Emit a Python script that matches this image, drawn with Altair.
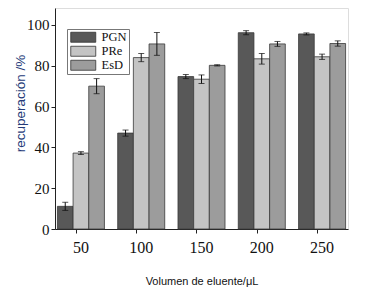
import altair as alt
import pandas as pd

volumes = ["50", "100", "150", "200", "250"]
series = ["PGN", "PRe", "EsD"]
pgn = [11.1, 47.0, 74.7, 96.2, 95.6]
pgn_err = [2.0, 1.5, 1.0, 1.0, 0.5]
pre = [37.2, 84.0, 73.4, 83.4, 84.4]
pre_err = [0.7, 2.0, 2.1, 2.6, 1.3]
esd = [70.0, 90.7, 80.2, 90.7, 90.9]
esd_err = [3.7, 5.6, 0.3, 1.2, 1.3]
colors = ["#585858", "#c4c4c4", "#9c9c9c"]

rows = []
for name, vals, errs in [("PGN", pgn, pgn_err), ("PRe", pre, pre_err), ("EsD", esd, esd_err)]:
    for v, val, e in zip(volumes, vals, errs):
        rows.append({"vol": v, "serie": name, "val": val, "lo": val - e, "hi": val + e})
df = pd.DataFrame(rows)

x_enc = alt.X("vol:N", sort=volumes,
              scale=alt.Scale(paddingInner=0.22, paddingOuter=0.04),
              axis=alt.Axis(title="Volumen de eluente/μL", labelAngle=0, bandPosition=0.4,
                            labelFont="Liberation Serif", labelFontSize=16, labelColor="#111",
                            titleFont="Liberation Sans", titleFontSize=11, titleFontWeight="normal",
                            titleColor="#111", titlePadding=20, tickSize=4, labelPadding=6,
                            domainColor="#222", tickColor="#222"))
xo = alt.XOffset("serie:N", sort=series, scale=alt.Scale(paddingInner=0, paddingOuter=0))
y_scale = alt.Scale(domain=[0, 108.3], nice=False)

base = alt.Chart(df)

bars = base.mark_bar(stroke="#3a3a3a", strokeWidth=0.8).encode(
    x=x_enc,
    xOffset=xo,
    y=alt.Y("val:Q", scale=y_scale,
            axis=alt.Axis(title="recuperación /%", values=[0, 20, 40, 60, 80, 100], grid=False,
                          labelFont="Liberation Serif", labelFontSize=15, labelColor="#111",
                          titleFont="Liberation Sans", titleFontSize=13.5, titleFontWeight="normal",
                          titleColor="#243a78", titleX=-35, titleY=95, titleAngle=-90,
                          titleAlign="center", titleBaseline="middle",
                          tickSize=4, domainColor="#222", tickColor="#222")),
    fill=alt.Fill("serie:N", sort=series,
                  scale=alt.Scale(domain=series, range=colors),
                  legend=alt.Legend(title=None, orient="none", legendX=12, legendY=21,
                                    symbolType="M-2.5,-1H2.5V1H-2.5Z", symbolSize=100,
                                    symbolStrokeColor="#333", symbolStrokeWidth=0.8,
                                    symbolOffset=8,
                                    labelFont="Liberation Serif", labelFontSize=12.5,
                                    labelColor="#111", labelOffset=12, rowPadding=0,
                                    strokeColor="#777", padding=2, fillColor="white")),
)

rules = base.mark_rule(color="#111", strokeWidth=1).encode(
    x=alt.X("vol:N", sort=volumes), xOffset=xo, y="lo:Q", y2="hi:Q")
caps_hi = base.mark_tick(color="#111", thickness=1, size=6, orient="horizontal").encode(
    x=alt.X("vol:N", sort=volumes), xOffset=xo, y="hi:Q")
caps_lo = base.mark_tick(color="#111", thickness=1, size=6, orient="horizontal").encode(
    x=alt.X("vol:N", sort=volumes), xOffset=xo, y="lo:Q")

chart = alt.layer(bars, rules, caps_hi, caps_lo).properties(
    width=293, height=221,
    autosize=alt.AutoSizeParams(type="none"),
    padding={"left": 47, "top": 0, "right": 16, "bottom": 60},
).configure_view(stroke=None).configure(background="white")

chart.save("out.html", embed_options={"renderer": "svg", "actions": False})
